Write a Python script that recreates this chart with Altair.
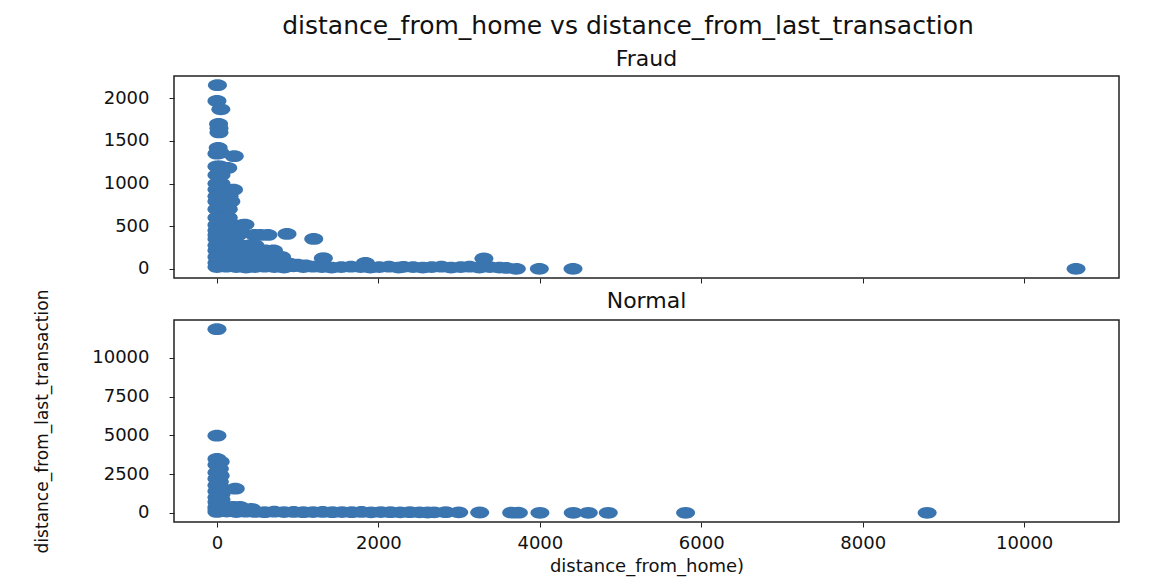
import altair as alt
import pandas as pd

# ---- data ----
# Fraud panel: distance_from_home (x) vs distance_from_last_transaction (y)
fraud_x = [
    6, 0, 48, 20, 25, 25, 15, 0, 40, 214,
    0, 40, 134,
    0, 50,
    0, 50,
    0, 100, 205,
    0, 80, 150,
    0, 90, 172,
    0, 70, 140,
    0, 70, 140,
    0, 100, 200, 323, 347,
    0, 100, 200, 280,
    0, 100, 200, 260, 465, 536, 631, 868,
    0, 100, 200, 1199,
    0, 100, 200, 300, 400, 470,
    0, 100, 200, 300, 400, 500, 600, 700,
    0, 100, 200, 300, 400, 500, 600, 700, 800, 1318,
    0, 100, 200, 300, 400, 500, 600, 700, 800, 900, 1000, 1100, 1839,
    0, 115, 240, 360, 470, 590, 710, 830, 950, 1070, 1190, 1300, 1420, 1540,
    1660, 1780, 1900, 2010, 2130, 2250, 2312, 2430, 2550, 2660, 2780, 2900,
    3020, 3130, 3250, 3307, 3380, 3500, 3590,
    3709, 3994, 4411, 10643,
]
fraud_y = [
    2154, 1969, 1871, 1700, 1650, 1600, 1419, 1350, 1360, 1321,
    1200, 1200, 1183,
    1100, 1100,
    1000, 1000,
    930, 930, 928,
    850, 850, 850,
    790, 790, 790,
    700, 700, 700,
    600, 600, 600,
    515, 515, 515, 515, 519,
    450, 450, 450, 450,
    397, 397, 397, 397, 397, 397, 397, 409,
    350, 350, 350, 350,
    275, 275, 275, 275, 275, 275,
    215, 215, 215, 215, 215, 215, 215, 215,
    140, 140, 140, 140, 140, 140, 140, 140, 140, 125,
    70, 70, 70, 70, 70, 70, 70, 70, 70, 60, 50, 40, 71,
    20, 25, 20, 15, 20, 25, 20, 15, 30, 20, 25, 20, 15, 20,
    25, 20, 15, 20, 25, 15, 24, 20, 15, 20, 25, 15,
    20, 25, 15, 121, 20, 15, 10,
    0, 0, 0, 0,
]

# Normal panel
normal_x = [
    0, 0, 0, 40, 0, 30, 0, 40, 0, 30, 0, 50, 227, 0, 50, 0, 50, 0, 50,
    0, 100, 200, 285,
    0, 100, 200, 300, 430,
    0, 120, 240, 355, 470, 590, 710, 830, 950, 1070, 1190, 1310, 1430,
    1550, 1670, 1790, 1910, 2030, 2150, 2270, 2390, 2510, 2610, 2690,
    2834, 2995, 3255, 3651, 3734, 4001, 4414, 4600, 4848, 5806, 8798,
]
normal_y = [
    11860, 4981, 3483, 3300, 3100, 2840, 2600, 2400, 2200, 2000, 1775, 1600, 1558, 1400, 1200, 1000, 850, 700, 550,
    385, 385, 385, 385,
    250, 250, 250, 250, 250,
    60, 80, 50, 70, 60, 40, 70, 50, 60, 40, 50, 60, 40,
    50, 40, 60, 30, 50, 40, 30, 40, 30, 20, 30,
    40, 30, 20, 10, 10, 0, 0, 0, 0, 0, 0,
]

x_ticks = [0, 2000, 4000, 6000, 8000, 10000]
fraud_y_ticks = [0, 500, 1000, 1500, 2000]
normal_y_ticks = [0, 2500, 5000, 7500, 10000]

main_title = "distance_from_home vs distance_from_last_transaction"
x_title = "distance_from_home)"
y_title = "distance_from_last_transaction"

FONT = "DejaVu Sans"
DOT = "#3a75b0"
# slightly wide ellipse, as the markers appear in the picture
DOT_SHAPE = "M -1 0 A 1 0.62 0 1 0 1 0 A 1 0.62 0 1 0 -1 0 Z"
DOT_SIZE = 361


def margins(vals):
    lo, hi = min(vals), max(vals)
    pad = 0.05 * (hi - lo)
    return [lo - pad, hi + pad]


x_dom = margins(fraud_x + normal_x)

fraud_df = pd.DataFrame({"home": fraud_x, "last": fraud_y})
normal_df = pd.DataFrame({"home": normal_x, "last": normal_y})

W, H = 945, 202


def sub_title(t, off):
    return alt.TitleParams(
        text=t, font=FONT, fontSize=22, fontWeight="normal", color="#111",
        anchor="middle", offset=off,
    )


def dots(df, title):
    return alt.Chart(df, title=title).mark_point(
        shape=DOT_SHAPE, size=DOT_SIZE, filled=True, opacity=1, color=DOT, strokeWidth=0
    )


top = (
    dots(fraud_df, sub_title("Fraud", 5))
    .encode(
        x=alt.X("home:Q", scale=alt.Scale(domain=x_dom, nice=False, zero=False),
                axis=alt.Axis(values=x_ticks, labels=False, title=None, tickSize=5)),
        y=alt.Y("last:Q", scale=alt.Scale(domain=margins(fraud_y), nice=False, zero=False),
                axis=alt.Axis(values=fraud_y_ticks, format="d", title=None,
                              tickSize=5, labelPadding=20)),
    )
    .properties(width=W, height=H)
)

bottom = (
    dots(normal_df, sub_title("Normal", -24))
    .encode(
        x=alt.X("home:Q", scale=alt.Scale(domain=x_dom, nice=False, zero=False),
                axis=alt.Axis(values=x_ticks, format="d", title=x_title, tickSize=5,
                              labelPadding=7, titlePadding=5, minExtent=30, maxExtent=30,
                              titleFontSize=18)),
        y=alt.Y("last:Q", scale=alt.Scale(domain=margins(normal_y), nice=False, zero=False),
                axis=alt.Axis(values=normal_y_ticks, format="d", title=y_title,
                              tickSize=5, labelPadding=20, titlePadding=5,
                              minExtent=118, maxExtent=118, titleFontSize=17)),
    )
    .properties(width=W, height=H)
)

chart = (
    alt.vconcat(top, bottom, spacing=42, bounds="flush")
    .properties(
        title=alt.TitleParams(text=main_title, font=FONT, fontSize=25, fontWeight="normal",
                              color="#111", anchor="middle", offset=8, dx=52),
        padding={"left": 24, "top": 6, "right": 5, "bottom": 5},
    )
    .configure_view(stroke="#222", strokeWidth=1.5)
    .configure_axis(
        grid=False, domain=False, tickColor="#222", labelColor="#111",
        labelFont=FONT, labelFontSize=18, titleFont=FONT, titleFontWeight="normal",
        titleColor="#111",
    )
)

chart.save("out.html", embed_options={"renderer": "svg", "actions": False})
